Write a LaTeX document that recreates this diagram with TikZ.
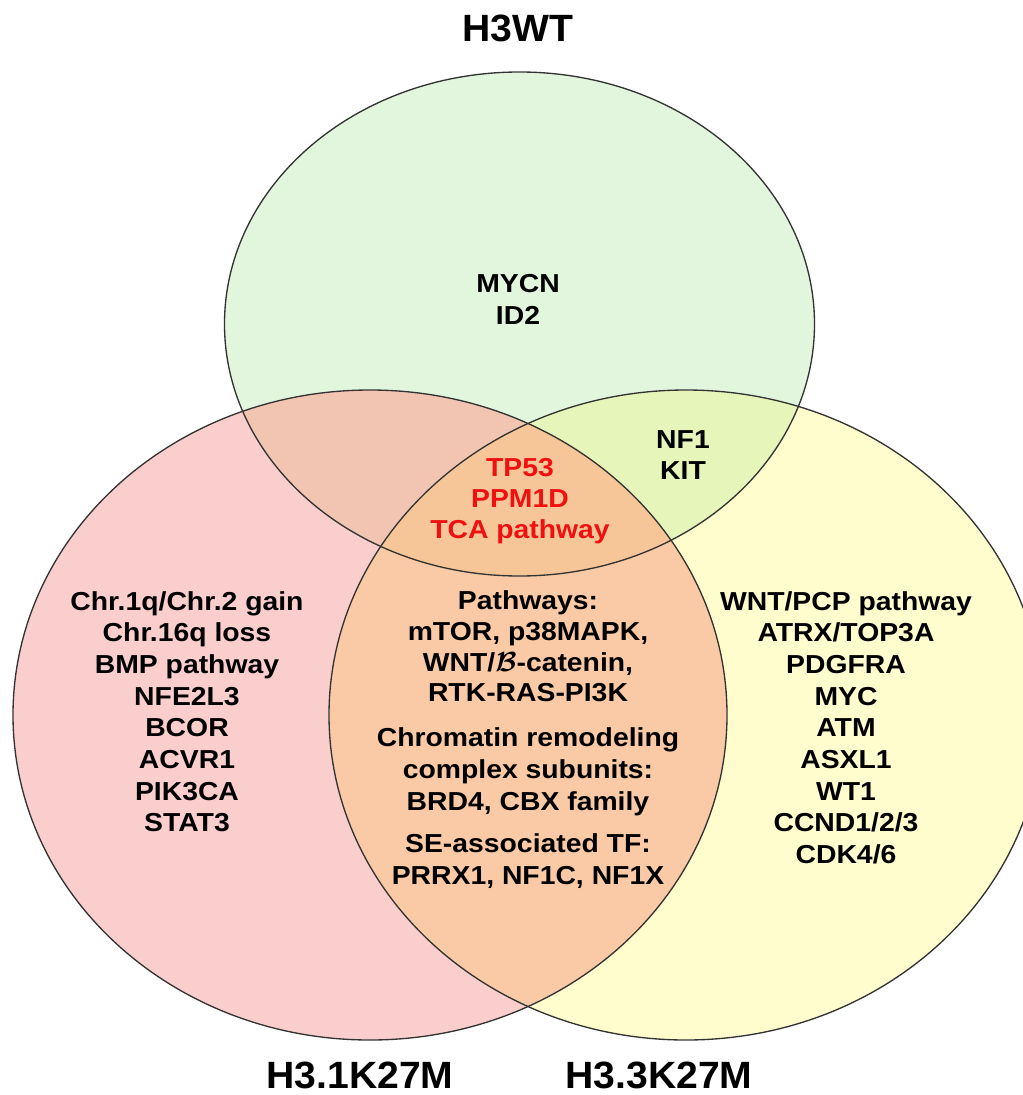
\documentclass[tikz,border=0pt]{standalone}
\usepackage{fontspec}
\setmainfont{Liberation Sans}[FakeStretch=1.09]
\newfontfamily\labelfont{Liberation Sans}[FakeStretch=1.03]
\definecolor{cgreen}{HTML}{E2F6DE}
\definecolor{cpink}{HTML}{FBCECE}
\definecolor{cyellow}{HTML}{FFFDCE}
\definecolor{csalmon}{HTML}{F2C4B2}
\definecolor{cyg}{HTML}{E6F6BA}
\definecolor{cpeach}{HTML}{F9CAA5}
\definecolor{corange}{HTML}{F6C698}
\definecolor{cred}{HTML}{F01010}
\begin{document}
\begin{tikzpicture}[x=0.75pt,y=-0.75pt,
  body/.style={anchor=base, inner sep=0pt, font=\fontsize{19.5}{23.8}\selectfont\bfseries},
  setlabel/.style={anchor=base, inner sep=0pt, font=\labelfont\fontsize{28.5}{34}\selectfont\bfseries},
  hot/.style={body, text=cred},
  ring/.style={draw=black!80, line width=1pt}]
\useasboundingbox (0,0) rectangle (1023,1095);
\clip (0,0) rectangle (1023,1095);
% fills
\fill[cgreen] (519.5,324) ellipse [x radius=221.25pt, y radius=189pt];
\fill[cpink] (370,715) ellipse [x radius=267.75pt, y radius=243.75pt];
\fill[cyellow] (686,715) ellipse [x radius=267.75pt, y radius=243.75pt];
\begin{scope}
  \clip (519.5,324) ellipse [x radius=221.25pt, y radius=189pt];
  \fill[csalmon] (370,715) ellipse [x radius=267.75pt, y radius=243.75pt];
\end{scope}
\begin{scope}
  \clip (519.5,324) ellipse [x radius=221.25pt, y radius=189pt];
  \fill[cyg] (686,715) ellipse [x radius=267.75pt, y radius=243.75pt];
\end{scope}
\begin{scope}
  \clip (370,715) ellipse [x radius=267.75pt, y radius=243.75pt];
  \fill[cpeach] (686,715) ellipse [x radius=267.75pt, y radius=243.75pt];
\end{scope}
\begin{scope}
  \clip (519.5,324) ellipse [x radius=221.25pt, y radius=189pt];
  \clip (370,715) ellipse [x radius=267.75pt, y radius=243.75pt];
  \fill[corange] (686,715) ellipse [x radius=267.75pt, y radius=243.75pt];
\end{scope}
% outlines
\draw[ring] (519.5,324) ellipse [x radius=221.25pt, y radius=189pt];
\draw[ring] (370,715) ellipse [x radius=267.75pt, y radius=243.75pt];
\draw[ring] (686,715) ellipse [x radius=267.75pt, y radius=243.75pt];
% set labels
\node[setlabel] (lwt) at (517.5,42) {H3WT};
\node[setlabel] (l31) at (360,1088) {H3.1K27M};
\node[setlabel] (l33) at (659,1088) {H3.3K27M};
% top only
\node[body] (t1) at (518,292.6) {MYCN};
\node[body] (t2) at (518,324) {ID2};
% top & right
\node[body] (tr1) at (683,448) {NF1};
\node[body] (tr2) at (683,479) {KIT};
% all three
\node[hot] (c1) at (520,476) {TP53};
\node[hot] (c2) at (520,507) {PPM1D};
\node[hot] (c3) at (520,538) {TCA pathway};
% left only
\node[body] (a1) at (187,610) {Chr.1q/Chr.2 gain};
\node[body] (a2) at (187,641.7) {Chr.16q loss};
\node[body] (a3) at (187,673.4) {BMP pathway};
\node[body] (a4) at (187,705.1) {NFE2L3};
\node[body] (a5) at (187,736.8) {BCOR};
\node[body] (a6) at (187,768.5) {ACVR1};
\node[body] (a7) at (187,800.2) {PIK3CA};
\node[body] (a8) at (187,831.9) {STAT3};
% left & right
\node[body] (m1) at (528,609) {Pathways:};
\node[body] (m2) at (528,640) {mTOR, p38MAPK,};
\node[body] (m3) at (528,671) {WNT/{\boldmath$\mathcal{B}$}-catenin,};
\node[body] (m4) at (528,701) {RTK-RAS-PI3K};
\node[body] (m5) at (528,746) {Chromatin remodeling};
\node[body] (m6) at (528,778) {complex subunits:};
\node[body] (m7) at (528,810) {BRD4, CBX family};
\node[body] (m8) at (528,852) {SE-associated TF:};
\node[body] (m9) at (528,884) {PRRX1, NF1C, NF1X};
% right only
\node[body] (b1) at (846,610) {WNT/PCP pathway};
\node[body] (b2) at (846,641.7) {ATRX/TOP3A};
\node[body] (b3) at (846,673.4) {PDGFRA};
\node[body] (b4) at (846,705.1) {MYC};
\node[body] (b5) at (846,736.8) {ATM};
\node[body] (b6) at (846,768.5) {ASXL1};
\node[body] (b7) at (846,800.2) {WT1};
\node[body] (b8) at (846,831.9) {CCND1/2/3};
\node[body] (b9) at (846,863.6) {CDK4/6};
\end{tikzpicture}
\end{document}
